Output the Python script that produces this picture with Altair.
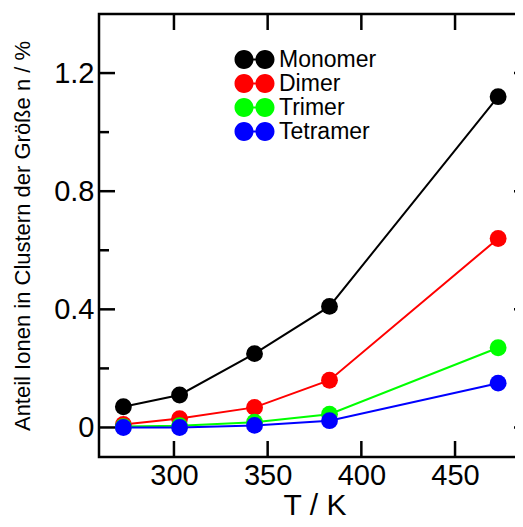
import altair as alt
import pandas as pd

# ---- data ----
temps = [273, 303, 343, 383, 473]
series = ["Monomer", "Dimer", "Trimer", "Tetramer"]
colors = ["#000000", "#ff0000", "#00ff00", "#0000ff"]
monomer = [0.07, 0.11, 0.25, 0.41, 1.12]
dimer = [0.01, 0.03, 0.068, 0.16, 0.64]
trimer = [0.003, 0.006, 0.018, 0.045, 0.27]
tetramer = [0.0, 0.0, 0.007, 0.023, 0.15]

x_ticks = [300, 350, 400, 450]
y_ticks = [0, 0.4, 0.8, 1.2]
y_minor = [0.2, 0.6, 1.0]
x_domain = [260, 490]
y_domain = [-0.1, 1.4]

x_title = "T / K"
y_title = "Anteil Ionen in Clustern der Größe n / %"

# ---- build long table ----
rows = []
for i, (name, vals) in enumerate(zip(series, [monomer, dimer, trimer, tetramer])):
    for t, v in zip(temps, vals):
        rows.append({"series": name, "T": t, "value": v, "idx": i})
df = pd.DataFrame(rows)

FONT = "Liberation Sans"
xsc = alt.Scale(domain=x_domain, nice=False, zero=False)
ysc = alt.Scale(domain=y_domain, nice=False, zero=False)


# legend glyph: two filled circles joined by a short bar (unit-box path, cubic curves)
def circle_path(cx, r=1.0, k=0.5523):
    kr = k * r
    return (f"M {cx + r} 0 C {cx + r} {kr} {cx + kr} {r} {cx} {r} "
            f"C {cx - kr} {r} {cx - r} {kr} {cx - r} 0 "
            f"C {cx - r} {-kr} {cx - kr} {-r} {cx} {-r} "
            f"C {cx + kr} {-r} {cx + r} {-kr} {cx + r} 0 Z")


sym_path = " ".join([circle_path(-1.105), circle_path(1.105),
                     "M -0.3 -0.11 L 0.3 -0.11 L 0.3 0.11 L -0.3 0.11 Z"])

xaxis = alt.Axis(values=x_ticks, ticks=False, domain=False, grid=False,
                 labelFont=FONT, labelFontSize=29, labelColor="black", labelPadding=4,
                 title=x_title, titleFont=FONT, titleFontSize=30, titleFontWeight="normal",
                 titleColor="black", titleBaseline="alphabetic", titleY=57)
yaxis = alt.Axis(values=y_ticks, ticks=False, domain=False, grid=False,
                 labelFont=FONT, labelFontSize=29, labelColor="black", labelPadding=5,
                 labelExpr="datum.value == 0 ? '0' : format(datum.value, '.1f')",
                 title=y_title, titleFont=FONT, titleFontSize=22, titleFontWeight="normal",
                 titleColor="black", titleBaseline="middle", titleX=-77)

X = alt.X("T:Q", scale=xsc, axis=xaxis)
Y = alt.Y("value:Q", scale=ysc, axis=yaxis)

legend = alt.Legend(
    orient="none", legendX=144, legendY=34, title=None, padding=0,
    symbolType=sym_path, symbolSize=361, symbolStrokeWidth=0, symbolOpacity=1,
    labelFont=FONT, labelFontSize=23, labelColor="black", labelOffset=13,
    rowPadding=0)

layers = []
for name, col in zip(series, colors):
    layers.append(
        alt.Chart(df).transform_filter(alt.datum.series == name)
        .mark_line(strokeWidth=2, color=col)
        .encode(x=X, y=Y)
    )

points = alt.Chart(df).mark_point(filled=True, size=284, opacity=1, strokeWidth=0).encode(
    x=X, y=Y,
    color=alt.Color("series:N", scale=alt.Scale(domain=series, range=colors), legend=legend),
    order=alt.Order("idx:Q"),
)
layers.append(points)

xt = pd.DataFrame({"t": x_ticks})
ymaj = pd.DataFrame({"v": y_ticks})
ymin = pd.DataFrame({"v": y_minor})


def vtick(y):
    return alt.Chart(xt).mark_tick(orient="vertical", size=32, thickness=2.5, clip=True,
                                   color="black", opacity=1).encode(
        x=alt.X("t:Q", scale=xsc, axis=xaxis), y=y)


def htick(data, size, x):
    return alt.Chart(data).mark_tick(orient="horizontal", size=size, thickness=2.5, clip=True,
                                     color="black", opacity=1).encode(
        y=alt.Y("v:Q", scale=ysc, axis=yaxis), x=x)


layers += [
    vtick(alt.value("height")), vtick(alt.value(0)),
    htick(ymaj, 32, alt.value(0)), htick(ymaj, 32, alt.value("width")),
    htick(ymin, 20, alt.value(0)), htick(ymin, 20, alt.value("width")),
]

chart = alt.layer(*layers).properties(
    width=431, height=443,
    autosize=alt.AutoSizeParams(type="none"),
    padding={"left": 91, "top": 6, "right": -15, "bottom": 62},
).configure_view(stroke="black", strokeWidth=2.5)

chart.save("out.html", embed_options={"renderer": "svg", "actions": False})
